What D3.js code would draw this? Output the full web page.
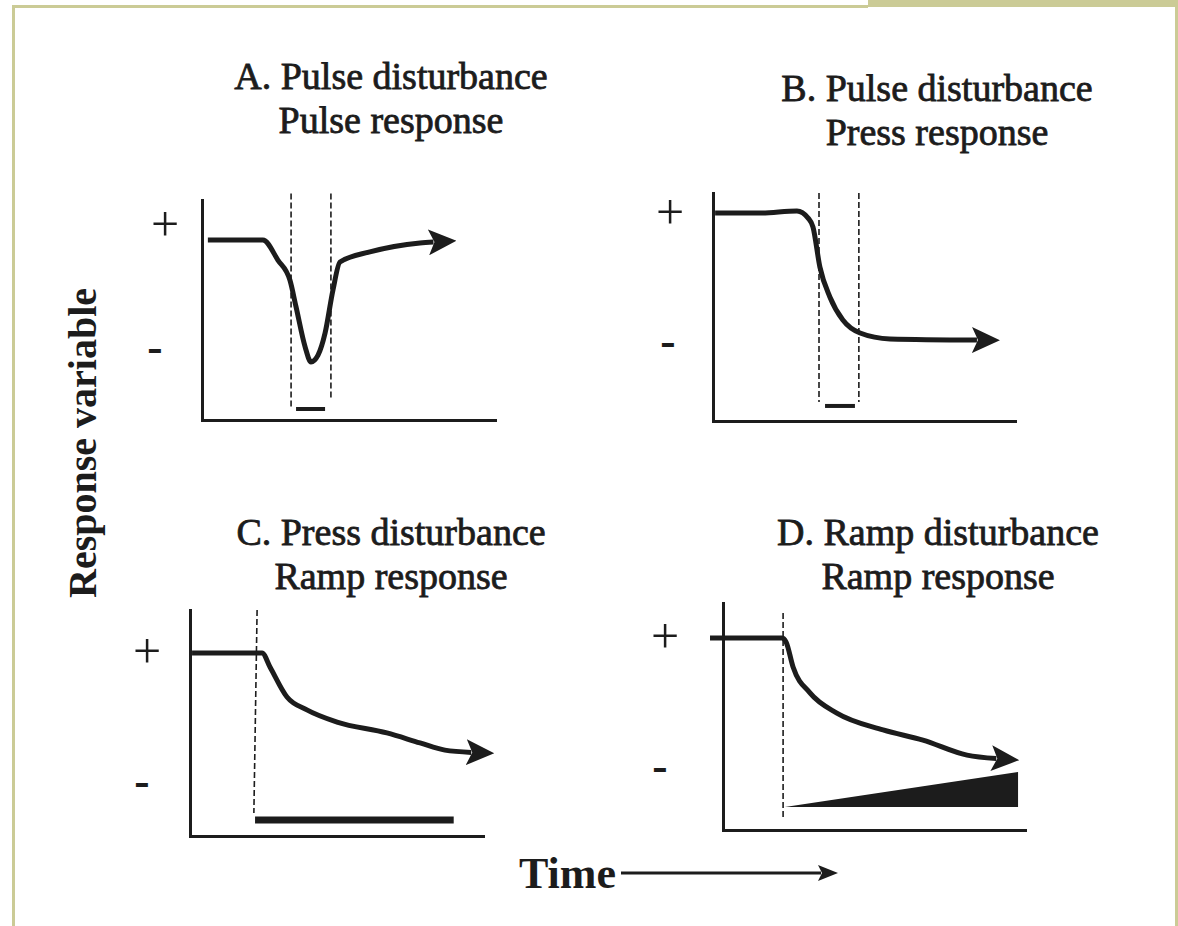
<!DOCTYPE html>
<html>
<head>
<meta charset="utf-8">
<script src="https://cdn.jsdelivr.net/npm/d3@7"></script>
<style>
body { margin: 0; background: #fff; }
svg { display: block; }
.title { font-family: "Liberation Serif", "Times New Roman", serif; font-size: 38px; fill: #1c1c1c; stroke: #1c1c1c; stroke-width: 0.8px; text-anchor: middle; }
.axis path { stroke: #1c1c1c; stroke-width: 3px; stroke-linecap: square; }
.axis text { font-family: "Liberation Serif", serif; fill: #1c1c1c; }
</style>
</head>
<body>
<svg></svg>
<script>
// every panel: time 0..10 left to right, response 0..10 bottom to top
var titleLine1 = ["A. Pulse disturbance", "B. Pulse disturbance", "C. Press disturbance", "D. Ramp disturbance"];
var titleLine2 = ["Pulse response", "Press response", "Ramp response", "Ramp response"];
var tickLabels = ["+", "-"];
var plusLevel = [8.86, 9.12, 8.10, 8.46];
var minusLevel = [3.27, 3.46, 2.39, 2.78];

var curveA = [[0.2, 8.18], [2.08, 8.18], [2.59, 7.27], [3.0, 6.36], [3.21, 5.14], [3.52, 3.32], [3.72, 2.64], [3.96, 2.95], [4.2, 3.95], [4.47, 5.91], [4.71, 7.18], [5.73, 7.64], [7.44, 8.05], [7.9, 8.09]];
var curveB = [[0.07, 9.12], [1.56, 9.12], [2.78, 9.21], [3.15, 8.9], [3.31, 8.51], [3.54, 6.75], [3.87, 5.44], [4.3, 4.43], [4.87, 3.86], [5.86, 3.6], [8.74, 3.55]];
var curveC = [[0.07, 8.1], [2.46, 8.1], [2.73, 7.48], [3.31, 6.15], [3.99, 5.58], [5.02, 5.04], [6.72, 4.56], [7.85, 4.12], [8.7, 3.8], [9.6, 3.7]];
var curveD = [[-0.43, 8.46], [1.95, 8.46], [2.09, 8.28], [2.32, 7.18], [2.88, 6.04], [3.77, 5.15], [5.3, 4.41], [6.62, 3.96], [8.08, 3.3], [9.05, 3.15]];

// dashed markers: [t1, y1, t2, y2]
var dashA = [[3.04, 10.3, 3.04, 0.59], [4.4, 10.3, 4.4, 0.91]];
var dashB = [[3.51, 10, 3.51, 0.83], [4.83, 10, 4.83, 0.83]];
var dashC = [[2.29, 10, 2.18, 1.02]];
var dashD = [[1.99, 9.56, 1.99, 0.57]];

// disturbance bars: [t, level]
var pulseA = [[3.21, 0.5], [4.2, 0.5]];
var pulseB = [[3.71, 0.66], [4.7, 0.66]];
var pressC = [[2.22, 0.71], [9.0, 0.71]];
// ramp wedge: [t, low, high]
var rampD = [[2.05, 1.01, 1.01], [9.77, 1.01, 2.56]];

var frames = [
    {left: 202, right: 495, top: 200, bottom: 420, plusX: 165, minusX: 155, cx: 391, ty: 89, bar: 4},
    {left: 713, right: 1015, top: 193, bottom: 421, plusX: 670, minusX: 668, cx: 937, ty: 101, bar: 4},
    {left: 190, right: 483, top: 610, bottom: 836, plusX: 147, minusX: 142, cx: 391, ty: 545, bar: 7},
    {left: 723, right: 1025, top: 603, bottom: 830, plusX: 665, minusX: 660, cx: 938, ty: 545, bar: 0}
];

var curves = [curveA, curveB, curveC, curveD];
var dashes = [dashA, dashB, dashC, dashD];
var bars = [pulseA, pulseB, pressC, null];

var svg = d3.select("svg").attr("width", 1178).attr("height", 926);
var ink = "#1c1c1c";
var khaki = "#cbcb96";

var defs = svg.append("defs");
defs.append("marker")
    .attr("id", "head")
    .attr("markerUnits", "userSpaceOnUse")
    .attr("viewBox", "0 0 28 26")
    .attr("markerWidth", 28).attr("markerHeight", 26)
    .attr("refX", 5).attr("refY", 13)
    .attr("orient", "auto")
    .append("path")
    .attr("d", "M0,0 L28,13 L0,26 L6,13 Z")
    .attr("fill", ink);
defs.append("marker")
    .attr("id", "smallhead")
    .attr("markerUnits", "userSpaceOnUse")
    .attr("viewBox", "0 0 20 16")
    .attr("markerWidth", 20).attr("markerHeight", 16)
    .attr("refX", 3).attr("refY", 8)
    .attr("orient", "auto")
    .append("path")
    .attr("d", "M0,0 L20,8 L0,16 L4,8 Z")
    .attr("fill", ink);

// page frame
svg.append("rect").attr("x", 868).attr("y", 0).attr("width", 310).attr("height", 7).attr("fill", khaki);
svg.append("rect").attr("x", 12).attr("y", 5).attr("width", 856).attr("height", 3).attr("fill", khaki);
svg.append("rect").attr("x", 12).attr("y", 5).attr("width", 3).attr("height", 921).attr("fill", khaki);
svg.append("rect").attr("x", 1175).attr("y", 5).attr("width", 3).attr("height", 921).attr("fill", khaki);

var drawPanel = function(i)
{
    var f = frames[i];
    var x = d3.scaleLinear().domain([0, 10]).range([f.left, f.right]);
    var y = d3.scaleLinear().domain([0, 10]).range([f.bottom, f.top]);
    var g = svg.append("g").attr("class", "panel");

    g.append("text").attr("class", "title").attr("x", f.cx).attr("y", f.ty).text(titleLine1[i]);
    g.append("text").attr("class", "title").attr("x", f.cx).attr("y", f.ty + 44).text(titleLine2[i]);

    var yAxis = d3.axisLeft(y)
        .tickValues([plusLevel[i], minusLevel[i]])
        .tickSize(0).tickSizeOuter(0)
        .tickFormat(function(d, k){ return tickLabels[k]; });
    var ya = g.append("g").attr("class", "axis")
        .attr("transform", "translate(" + f.left + ",0)")
        .call(yAxis);
    ya.selectAll(".tick text")
        .attr("text-anchor", "middle")
        .attr("x", function(d, k){ return (k == 0 ? f.plusX : f.minusX) - f.left; })
        .attr("dy", function(d, k){ return k == 0 ? "0.3em" : "0.3em"; })
        .style("font-size", function(d, k){ return k == 0 ? "50px" : "46px"; })
        .style("font-weight", function(d, k){ return k == 0 ? "normal" : "bold"; });

    var xAxis = d3.axisBottom(x).tickValues([]).tickSizeOuter(0);
    g.append("g").attr("class", "axis")
        .attr("transform", "translate(0," + f.bottom + ")")
        .call(xAxis);

    g.selectAll(".dash")
        .data(dashes[i])
        .enter()
        .append("line")
        .attr("x1", function(d){ return x(d[0]); })
        .attr("y1", function(d){ return y(d[1]); })
        .attr("x2", function(d){ return x(d[2]); })
        .attr("y2", function(d){ return y(d[3]); })
        .attr("stroke", ink)
        .attr("stroke-width", 1.6)
        .attr("stroke-dasharray", "6,3");

    if (bars[i])
    {
        g.append("line")
            .attr("x1", x(bars[i][0][0])).attr("y1", y(bars[i][0][1]))
            .attr("x2", x(bars[i][1][0])).attr("y2", y(bars[i][1][1]))
            .attr("stroke", ink)
            .attr("stroke-width", f.bar);
    }
    else
    {
        var wedge = d3.area()
            .x(function(d){ return x(d[0]); })
            .y0(function(d){ return y(d[1]); })
            .y1(function(d){ return y(d[2]); });
        g.append("path").attr("d", wedge(rampD)).attr("fill", ink);
    }

    var line = d3.line()
        .x(function(d){ return x(d[0]); })
        .y(function(d){ return y(d[1]); })
        .curve(d3.curveMonotoneX);
    g.append("path")
        .attr("d", line(curves[i]))
        .attr("fill", "none")
        .attr("stroke", ink)
        .attr("stroke-width", 5)
        .attr("stroke-linejoin", "round")
        .attr("marker-end", "url(#head)");
}

for (var i = 0; i < 4; i++) drawPanel(i);

// shared labels
svg.append("text")
    .attr("transform", "translate(96,443) rotate(-90)")
    .attr("text-anchor", "middle")
    .style("font-family", "Liberation Serif, serif")
    .style("font-weight", "bold")
    .style("font-size", "40px")
    .attr("fill", ink)
    .text("Response variable");

svg.append("text")
    .attr("x", 519).attr("y", 888)
    .style("font-family", "Liberation Serif, serif")
    .style("font-weight", "bold")
    .style("font-size", "44px")
    .attr("fill", ink)
    .text("Time");

svg.append("line")
    .attr("x1", 621).attr("y1", 873)
    .attr("x2", 821).attr("y2", 873)
    .attr("stroke", ink)
    .attr("stroke-width", 3)
    .attr("marker-end", "url(#smallhead)");
</script>
</body>
</html>
